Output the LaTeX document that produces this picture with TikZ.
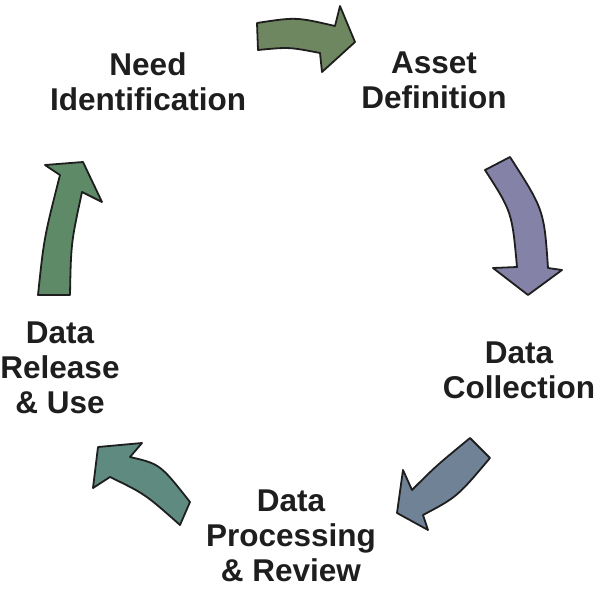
\documentclass[tikz,border=0pt]{standalone}
\usepackage{fontspec}
\setmainfont{Liberation Sans}
\definecolor{aOlive}{RGB}{111,135,96}
\definecolor{aLav}{RGB}{132,130,166}
\definecolor{aSlate}{RGB}{111,130,150}
\definecolor{aTeal}{RGB}{95,138,128}
\definecolor{aGreen}{RGB}{95,138,104}
\definecolor{txt}{RGB}{30,30,30}
\definecolor{edge}{RGB}{30,30,30}
\tikzset{
  cyclearrow/.style={draw=edge, line width=1.8pt, line join=round},
  steplabel/.style={anchor=north, inner sep=0pt, align=center, text=txt,
    font=\bfseries\fontsize{31.5}{35}\selectfont},
}
\begin{document}
\begin{tikzpicture}[x=1pt,y=-1pt]
\useasboundingbox (0,0) rectangle (600,592);
\fill[white] (0,0) rectangle (600,592);

% arrow 1: top (olive)
\draw[cyclearrow, fill=aOlive] (257,23) .. controls (296,17) .. (335,26)
  -- (340,6) -- (355,42) -- (322,72) -- (320,53)
  .. controls (289,47) .. (258,50) -- cycle;

% arrow 2: right (lavender)
\draw[cyclearrow, fill=aLav] (485,170) -- (510,157)
  .. controls (544,210) .. (548,268)
  -- (562,270) -- (528,295) -- (493,268) -- (517,267)
  .. controls (512,212) .. (485,170) -- cycle;

% arrow 3: bottom right (slate)
\draw[cyclearrow, fill=aSlate] (470,438) -- (490,458)
  .. controls (457,497) .. (423,515)
  -- (428,530) -- (397,513) -- (403,470) -- (412,490)
  .. controls (436,466) .. (470,438) -- cycle;

% arrow 4: bottom left (teal)
\draw[cyclearrow, fill=aTeal] (98,447) -- (142,443) -- (130,457)
  .. controls (160,464) .. (190,502)
  -- (180,525)
  .. controls (145,494) .. (110,477)
  -- (93,488) -- cycle;

% arrow 5: left (green)
\draw[cyclearrow, fill=aGreen] (38,295) -- (70,295)
  .. controls (71,243) .. (82,192)
  -- (102,202) -- (83,162) -- (45,165) -- (60,175)
  .. controls (44,238) .. (38,295) -- cycle;

\node[steplabel] (need) at (148,52) {Need\\Identification};
\node[steplabel] (asset) at (434,52) {Asset\\Definition};
\node[steplabel] (collect) at (519,342) {Data\\Collection};
\node[steplabel] (process) at (291,490) {Data\\Processing\\\& Review};
\node[steplabel] (release) at (60,322) {Data\\Release\\\& Use};
\end{tikzpicture}
\end{document}
